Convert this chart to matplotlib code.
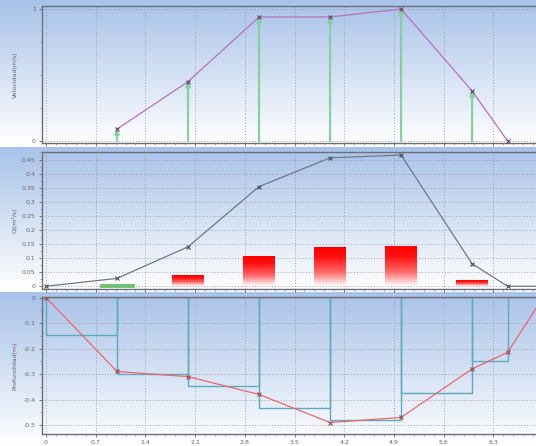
import matplotlib.pyplot as plt
import numpy as np
from matplotlib.colors import LinearSegmentedColormap
from matplotlib.ticker import MultipleLocator, AutoMinorLocator

# estaciones (m) y mediciones
estaciones = [0.0, 1.0, 2.0, 3.0, 4.0, 5.0, 6.0, 6.5, 7.0]
profundidad = [0.0, -0.29, -0.31, -0.38, -0.49, -0.47, -0.28, -0.215, 0.0]
caudal_acum = [0.0, 0.028, 0.14, 0.354, 0.456, 0.466, 0.08, 0.0, 0.0]

vel_x = [1.0, 2.0, 3.0, 4.0, 5.0, 6.0, 6.5]
velocidad = [0.09, 0.45, 0.94, 0.94, 1.0, 0.38, 0.0]

barra_x = [1.0, 2.0, 3.0, 4.0, 5.0, 6.0]
caudal_parcial = [0.004, 0.036, 0.105, 0.138, 0.139, 0.019]

# profundidad media de cada seccion
tramo_ini = [0.0, 1.0, 2.0, 3.0, 4.0, 5.0, 6.0]
tramo_fin = [1.0, 2.0, 3.0, 4.0, 5.0, 6.0, 6.5]
tramo_prof = [-0.145, -0.30, -0.345, -0.435, -0.48, -0.375, -0.248]

xticks = [0, 0.7, 1.4, 2.1, 2.8, 3.5, 4.2, 4.9, 5.6, 6.3]
XLIM = (-0.056, 6.90)

W, H = 536, 446
fig = plt.figure(figsize=(W / 100, H / 100), dpi=100)
fig.patch.set_facecolor('white')

fondo = LinearSegmentedColormap.from_list('fondo', ['#ffffff', '#a8c2e9'])
rojo = LinearSegmentedColormap.from_list(
    'rojo', [(0, '#ffffff'), (0.35, '#ff6a6a'), (0.75, '#ff1010'), (1, '#ff0000')])
grad = np.linspace(0, 1, 256).reshape(-1, 1)


def px(top, bottom, left=42, right=536):
    return [left / W, 1 - bottom / H, (right - left) / W, (bottom - top) / H]


# bandas de fondo con degradado
for top, bottom in [(0, 145), (147, 290), (292, 446)]:
    bg = fig.add_axes(px(top, bottom, 0, W), zorder=0)
    bg.imshow(grad, aspect='auto', cmap=fondo, origin='lower',
              extent=[0, 1, 0, 1])
    bg.set_axis_off()


def estilo(ax, ylim):
    ax.set_facecolor('none')
    ax.set_xlim(*XLIM)
    ax.set_ylim(*ylim)
    ax.set_xticks(xticks)
    ax.xaxis.set_minor_locator(AutoMinorLocator(5))
    ax.grid(True, which='major', color='#9a9a9a', linestyle=(0, (1.2, 2.2)), linewidth=0.6)
    ax.tick_params(labelsize=4.5, colors='#666666', length=2.5, width=0.6, pad=2)
    ax.tick_params(which='minor', length=1.5, width=0.5, colors='#888888')
    for s in ['left', 'bottom', 'top']:
        ax.spines[s].set_color('#6a6f78')
        ax.spines[s].set_linewidth(1.0)
    ax.spines['right'].set_visible(False)


# velocidad
ax1 = fig.add_axes(px(6, 143), zorder=2)
estilo(ax1, (-0.015, 1.023))
ax1.set_yticks([0, 1])
ax1.yaxis.set_minor_locator(MultipleLocator(0.25))
ax1.set_xticklabels([])
for x, v in zip(vel_x, velocidad):
    if v > 0:
        ax1.annotate('', xy=(x, v), xytext=(x, 0),
                     arrowprops=dict(arrowstyle='-|>', color='#86d0a0', lw=1.6,
                                     mutation_scale=6, shrinkA=0, shrinkB=0))
ax1.plot(vel_x, velocidad, color='#b472bd', lw=0.9, marker='x', ms=3.5,
         mec='#5a4a5a', mew=0.8, zorder=3)
ax1.set_ylabel('Velocidad(m/s)', fontsize=4.5, color='#666666')
ax1.yaxis.set_label_coords(-0.049, 0.5)

# caudal
ax2 = fig.add_axes(px(152.5, 288.5), zorder=2)
estilo(ax2, (-0.008, 0.475))
ax2.set_yticks(np.arange(0, 0.46, 0.05))
ax2.set_yticklabels(['0', '0.05', '0.1', '0.15', '0.2', '0.25', '0.3', '0.35', '0.4', '0.45'])
ax2.yaxis.set_minor_locator(AutoMinorLocator(2))
ax2.set_xticklabels([])
ancho = 0.44
for i, (x, q) in enumerate(zip(barra_x, caudal_parcial)):
    if i == 0:
        ax2.bar(x, q, width=ancho, color='#6cbf6c', edgecolor='#6cbf6c',
                lw=2.0, zorder=4, clip_on=False)
    else:
        ax2.imshow(grad, aspect='auto', cmap=rojo, origin='lower',
                   extent=[x - ancho / 2, x + ancho / 2, 0, q], zorder=2)
ax2.set_xlim(*XLIM)
ax2.set_ylim(-0.008, 0.475)
ax2.plot(estaciones, caudal_acum, color='#6f7884', lw=0.9, marker='x', ms=3.5,
         mec='#4a4f58', mew=0.8, zorder=3)
ax2.set_ylabel('Qi(m³/s)', fontsize=4.5, color='#666666')
ax2.yaxis.set_label_coords(-0.049, 0.5)

# perfil de profundidad
ax3 = fig.add_axes(px(297, 434), zorder=2)
estilo(ax3, (-0.535, 0.002))
ax3.set_yticks([0, -0.1, -0.2, -0.3, -0.4, -0.5])
ax3.set_yticklabels(['0', '-0.1', '-0.2', '-0.3', '-0.4', '-0.5'])
ax3.yaxis.set_minor_locator(AutoMinorLocator(2))
ax3.set_xticklabels(['0', '0.7', '1.4', '2.1', '2.8', '3.5', '4.2', '4.9', '5.6', '6.3'])
for a, b, d in zip(tramo_ini, tramo_fin, tramo_prof):
    ax3.plot([a, a, b, b], [0, d, d, 0], color='#5aabbd', lw=1.0, zorder=2)
ax3.plot(estaciones, profundidad, color='#e8686a', lw=0.9, marker='x', ms=3.5,
         mec='#a04a4a', mew=0.8, zorder=3)
ax3.set_ylabel('Profundidad(m)', fontsize=4.5, color='#666666')
ax3.yaxis.set_label_coords(-0.049, 0.5)

fig.savefig('out.png', dpi=100)
